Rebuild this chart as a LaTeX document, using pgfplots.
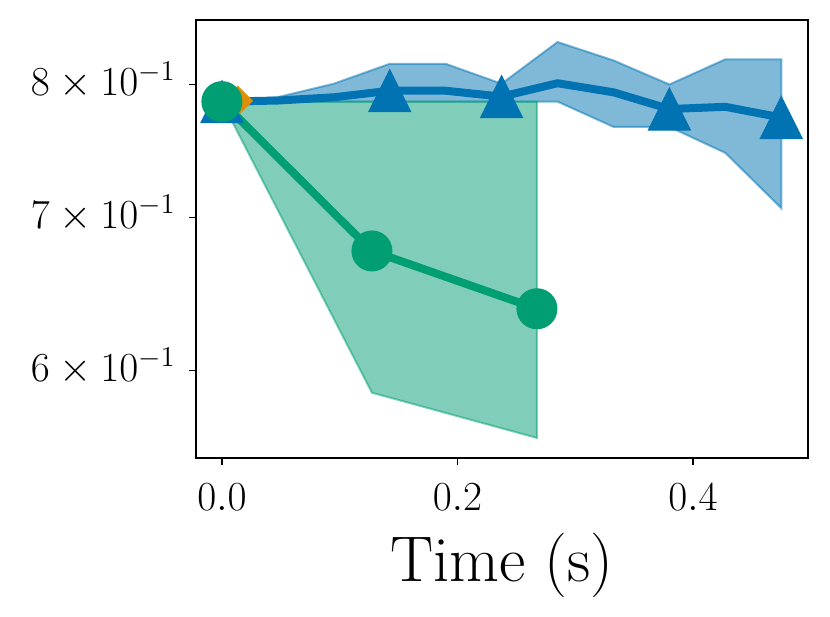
\documentclass[border=0pt]{standalone}
\usepackage{pgfplots}
\pgfplotsset{compat=1.18}
\definecolor{cbblue}{HTML}{0173B2}
\definecolor{cbgreen}{HTML}{029E73}
\definecolor{cborange}{HTML}{DE8F05}
\pgfdeclareplotmark{mtri}{%
  \pgfpathmoveto{\pgfpoint{0pt}{\pgfplotmarksize}}%
  \pgfpathlineto{\pgfpoint{-\pgfplotmarksize}{-\pgfplotmarksize}}%
  \pgfpathlineto{\pgfpoint{\pgfplotmarksize}{-\pgfplotmarksize}}%
  \pgfpathclose\pgfusepathqfillstroke}
\begin{document}
\begin{tikzpicture}
\begin{axis}[
  scale only axis, width=306bp, height=219bp,
  xmin=-0.022, xmax=0.4977,
  ymode=log, ymin=0.5495, ymax=0.8536,
  xtick={0,0.2,0.4}, xticklabels={$0.0$,$0.2$,$0.4$},
  ytick={0.6,0.7,0.8},
  yticklabels={$6\times10^{-1}$,$7\times10^{-1}$,$8\times10^{-1}$},
  yminorticks=false, xminorticks=false,
  tick align=outside, tick pos=left,
  major tick length=3.5bp,
  axis line style={line width=0.8bp},
  every tick/.style={black, line width=0.8bp},
  xticklabel style={anchor=base, yshift=-23bp, inner sep=0pt, font=\fontsize{20}{24}\selectfont},
  yticklabel style={anchor=base east, xshift=-6.5bp, yshift=-5.5bp, inner sep=0pt, font=\fontsize{20.5}{24}\selectfont},
  xlabel={Time (s)},
  xlabel style={at={(axis description cs:0.5,0)}, anchor=base, yshift=-61.5bp, inner sep=0pt, font=\fontsize{32.4}{38}\selectfont},
]
% blue band
\addplot[fill=cbblue, fill opacity=0.5, draw=cbblue, draw opacity=0.5, line width=1bp] coordinates {
 (0,0.7864) (0.0475,0.7900) (0.095,0.8006) (0.1425,0.8168) (0.19,0.8168) (0.2375,0.8006)
 (0.285,0.8349) (0.3325,0.8196) (0.38,0.8000) (0.4275,0.8205) (0.475,0.8205)
 (0.475,0.7065) (0.4275,0.7469) (0.38,0.7667) (0.3325,0.7667) (0.285,0.7864) (0.2375,0.7864)
 (0.19,0.7864) (0.1425,0.7864) (0.095,0.7864) (0.0475,0.7864) (0,0.7864)} --cycle;
% green band
\addplot[fill=cbgreen, fill opacity=0.5, draw=cbgreen, draw opacity=0.5, line width=1bp] coordinates {
 (0,0.7864) (0.1274,0.7864) (0.2675,0.7864) (0.2675,0.5607) (0.1274,0.5868) (0,0.7864)} --cycle;
% orange
\addplot[only marks, mark=square*, mark size=5.2bp, mark options={rotate=45, fill=cborange, draw=cborange}] coordinates {
 (0.0135,0.7870)};
% blue line
\addplot[cbblue, line width=4bp, line join=round, no marks] coordinates {
 (0,0.7864) (0.0475,0.7873) (0.095,0.7898) (0.1425,0.7951) (0.19,0.7951) (0.2375,0.7904)
 (0.285,0.8010) (0.3325,0.7938) (0.38,0.7806) (0.4275,0.7823) (0.475,0.7740)};
\addplot[only marks, mark=mtri, mark size=10.5bp, mark options={fill=cbblue, draw=cbblue, line width=0.5bp}] coordinates {
 (0,0.7864) (0.1425,0.7951) (0.2375,0.7904) (0.38,0.7806) (0.475,0.7740)};
% green line
\addplot[cbgreen, line width=4bp, line join=round, mark=*, mark size=10bp, mark options={fill=cbgreen, draw=cbgreen, line width=0.5bp}] coordinates {
 (0,0.7864) (0.1274,0.6767) (0.2675,0.6385)};
\coordinate (bl) at (rel axis cs:0,0);
\coordinate (tr) at (rel axis cs:1,1);
\end{axis}
\pgfresetboundingbox
\path[use as bounding box] ([shift={(-98bp,-79.5bp)}]bl) rectangle ([shift={(11bp,10bp)}]tr);
\end{tikzpicture}
\end{document}
